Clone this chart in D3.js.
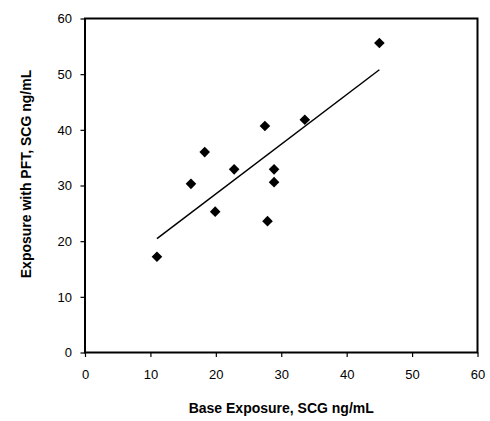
<!DOCTYPE html>
<html>
<head>
<meta charset="utf-8">
<script src="https://cdn.jsdelivr.net/npm/d3@7"></script>
<style>
  body { margin: 0; background: #fff; }
  svg text { font-family: "Liberation Sans", Arial, sans-serif; fill: #000; }
  .tick-label { font-size: 13px; }
  .axis-title { font-size: 14px; font-weight: bold; }
</style>
</head>
<body>
<svg id="chart" width="490" height="421"></svg>
<script>
// Base exposure vs exposure with PFT (SCG ng/mL)
const baseExposure = [11.0, 16.2, 18.3, 19.9, 22.8, 27.5, 27.9, 28.9, 28.9, 33.6, 45.0];
const pftExposure  = [17.2, 30.3, 36.0, 25.3, 32.9, 40.7, 23.6, 32.9, 30.6, 41.8, 55.6];
const xTicks = [0, 10, 20, 30, 40, 50, 60];
const yTicks = [0, 10, 20, 30, 40, 50, 60];

const svg = d3.select('#chart');
const margin = { left: 85, right: 12.5, top: 18.5, bottom: 68.5 };
const width = 490, height = 421;

const x = d3.scaleLinear().domain([0, 60]).range([margin.left, width - margin.right]);
const y = d3.scaleLinear().domain([0, 60]).range([height - margin.bottom, margin.top]);

// Plot frame
svg.append('rect')
    .attr('x', x(0))
    .attr('y', y(60))
    .attr('width', x(60) - x(0))
    .attr('height', y(0) - y(60))
    .attr('fill', 'none')
    .attr('stroke', '#000')
    .attr('stroke-width', 2);

// Axes
const xAxis = svg.append('g')
    .attr('transform', `translate(0,${y(0)})`)
    .call(d3.axisBottom(x).tickValues(xTicks).tickSize(4.5).tickPadding(13));
const yAxis = svg.append('g')
    .attr('transform', `translate(${x(0)},0)`)
    .call(d3.axisLeft(y).tickValues(yTicks).tickSize(4.5).tickPadding(8.5));

[xAxis, yAxis].forEach(g => {
    g.select('.domain').remove();
    g.selectAll('.tick line').attr('stroke', '#000').attr('stroke-width', 1.2);
    g.selectAll('.tick text')
        .attr('class', 'tick-label')
        .attr('font-family', null)
        .attr('font-size', null);
});

// Least-squares trend line over the data range
const n = baseExposure.length;
const mx = d3.mean(baseExposure), my = d3.mean(pftExposure);
let sxy = 0, sxx = 0;
for (let i = 0; i < n; i++) {
    sxy += (baseExposure[i] - mx) * (pftExposure[i] - my);
    sxx += (baseExposure[i] - mx) ** 2;
}
const slope = sxy / sxx, intercept = my - slope * mx;
const [x0, x1] = d3.extent(baseExposure);

svg.append('line')
    .attr('x1', x(x0)).attr('y1', y(intercept + slope * x0))
    .attr('x2', x(x1)).attr('y2', y(intercept + slope * x1))
    .attr('stroke', '#000')
    .attr('stroke-width', 1.5);

// Diamond markers
const r = 5.3;
svg.append('g')
    .selectAll('path')
    .data(baseExposure.map((d, i) => [d, pftExposure[i]]))
    .enter()
    .append('path')
    .attr('d', d => `M${x(d[0])},${y(d[1]) - r}L${x(d[0]) + r},${y(d[1])}L${x(d[0])},${y(d[1]) + r}L${x(d[0]) - r},${y(d[1])}Z`)
    .attr('fill', '#000');

// Axis titles
svg.append('text')
    .attr('class', 'axis-title')
    .attr('x', (x(0) + x(60)) / 2)
    .attr('y', 413)
    .attr('text-anchor', 'middle')
    .text('Base Exposure, SCG ng/mL');

svg.append('text')
    .attr('class', 'axis-title')
    .attr('transform', 'translate(31,174) rotate(-90)')
    .attr('text-anchor', 'middle')
    .text('Exposure with PFT, SCG ng/mL');
</script>
</body>
</html>
